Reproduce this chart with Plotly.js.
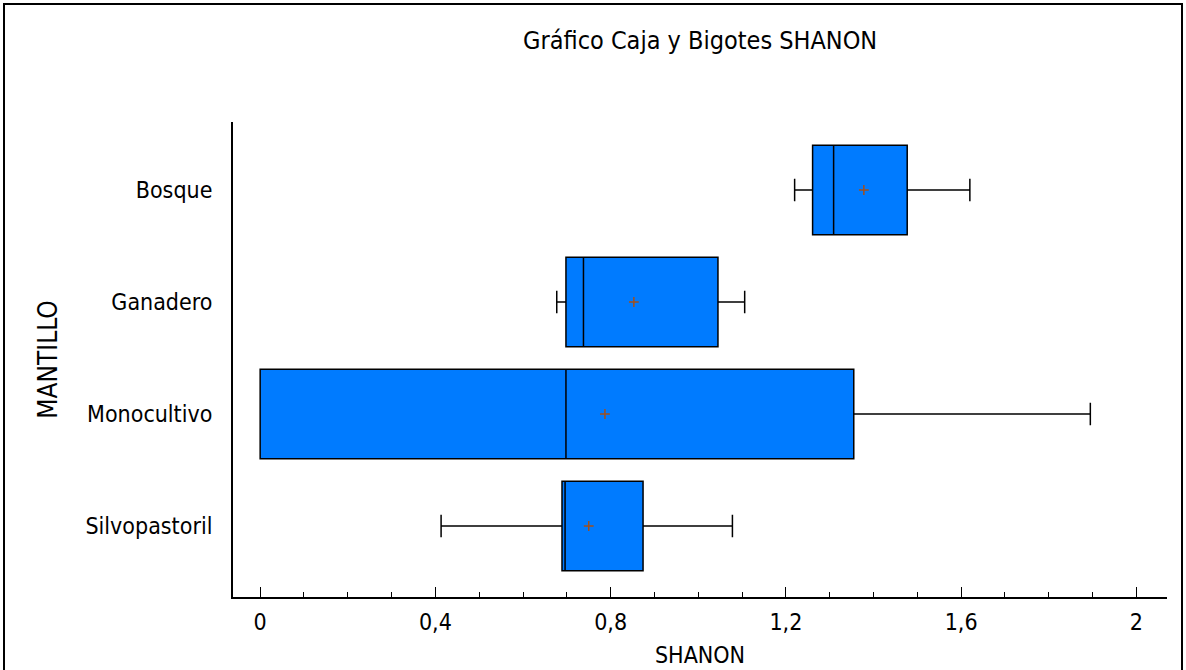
<!DOCTYPE html>
<html>
<head>
<meta charset="utf-8">
<script src="https://cdn.plot.ly/plotly-3.0.1.min.js"></script>
<style>
html,body{margin:0;padding:0;background:#fff;}
#wrap{position:relative;width:1186px;height:670px;overflow:hidden;}
#chart{position:absolute;left:0;top:0;width:1186px;height:670px;}
#frame{position:absolute;left:3px;top:3px;width:1176px;height:680px;border:2px solid #000;pointer-events:none;}
</style>
</head>
<body>
<div id="wrap"><div id="chart"></div><div id="frame"></div></div>
<script>
const categories = ["Silvopastoril", "Monocultivo", "Ganadero", "Bosque"];
const lowerWhisker = [0.413, 0.000, 0.677, 1.220];
const q1Values     = [0.689, 0.000, 0.698, 1.261];
const medianValues = [0.696, 0.698, 0.738, 1.309];
const q3Values     = [0.874, 1.355, 1.045, 1.477];
const upperWhisker = [1.078, 1.895, 1.106, 1.620];
const meanValues   = [0.750, 0.787, 0.853, 1.378];
const xTickValues  = [0, 0.4, 0.8, 1.2, 1.6, 2];

const fontFam = "DejaVu Sans Condensed, DejaVu Sans, sans-serif";

const boxTrace = {
  type: "box",
  orientation: "h",
  y: categories,
  q1: q1Values,
  median: medianValues,
  q3: q3Values,
  lowerfence: lowerWhisker,
  upperfence: upperWhisker,
  width: 0.8,
  whiskerwidth: 0.25,
  fillcolor: "#007BFF",
  line: {color: "#000000", width: 1.5},
  boxpoints: false,
  hoverinfo: "skip",
  showlegend: false
};

const meanTrace = {
  type: "scatter",
  mode: "markers",
  x: meanValues,
  y: categories,
  marker: {symbol: "cross-thin", size: 7, line: {color: "#A0501E", width: 1.5}, color: "#A0501E"},
  hoverinfo: "skip",
  showlegend: false
};

const layout = {
  width: 1186,
  height: 670,
  margin: {l: 233, r: 19, t: 122, b: 73},
  paper_bgcolor: "#ffffff",
  plot_bgcolor: "#ffffff",
  separators: ",.",
  font: {family: fontFam, size: 23, color: "#000"},
  title: {
    text: "Gráfico Caja y Bigotes SHANON",
    font: {family: fontFam, size: 25, color: "#000"},
    x: 0.5903, xanchor: "center",
    y: 0.94, yanchor: "middle", yref: "container"
  },
  xaxis: {
    range: [-0.062, 2.07],
    tickvals: xTickValues,
    ticktext: xTickValues.map(v => String(v).replace(".", ",")),
    ticks: "inside",
    ticklen: 10,
    tickwidth: 1,
    tickcolor: "#000",
    minor: {dtick: 0.1, tick0: 0, ticks: "inside", ticklen: 5, tickcolor: "#000", tickwidth: 1},
    showline: true,
    linecolor: "#000",
    linewidth: 2,
    showgrid: false,
    zeroline: false,
    tickfont: {family: fontFam, size: 23, color: "#000"},
    ticklabelstandoff: 3,
    title: {text: "SHANON", font: {family: fontFam, size: 23, color: "#000"}, standoff: 13},
    fixedrange: true
  },
  yaxis: {
    type: "category",
    categoryorder: "array",
    categoryarray: categories,
    range: [-0.634, 3.607],
    ticks: "",
    showline: true,
    linecolor: "#000",
    linewidth: 2,
    showgrid: false,
    zeroline: false,
    tickfont: {family: fontFam, size: 23, color: "#000"},
    ticklabelstandoff: 14,
    title: {text: "MANTILLO", font: {family: fontFam, size: 26, color: "#000"}, standoff: 20},
    fixedrange: true
  }
};

Plotly.newPlot("chart", [boxTrace, meanTrace], layout, {displayModeBar: false, staticPlot: true});
</script>
</body>
</html>
